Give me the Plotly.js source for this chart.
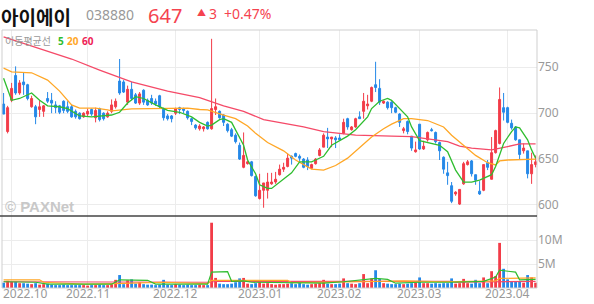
<!DOCTYPE html>
<html><head><meta charset="utf-8">
<script src="https://cdn.plot.ly/plotly-3.0.1.min.js"></script>
<style>html,body{margin:0;padding:0;background:#fff}#chart{width:594px;height:304px}</style>
</head><body><div id="chart"></div>
<script>
// trading days (KRX) per month
const sep2022 = [29,30];
const oct2022 = [4,5,6,7,11,12,13,14,17,18,19,20,21,24,25,26,27,28,31];
const nov2022 = [1,2,3,4,7,8,9,10,11,14,15,16,17,18,21,22,23,24,25,28,29,30];
const dec2022 = [1,2,5,6,7,8,9,12,13,14,15,16,19,20,21,22,23,26,27,28,29];
const jan2023 = [2,3,4,5,6,9,10,11,12,13,16,17,18,19,20,25,26,27,30,31];
const feb2023 = [1,2,3,6,7,8,9,10,13,14,15,16,17,20,21,22,23,24,27,28];
const mar2023 = [2,3,6,7,8,9,10,13,14,15,16,17,20,21,22,23,24,27,28,29,30,31];
const apr2023 = [3,4,5,6,7,10,11,12];

const monthTickDates = ['2022-10-04','2022-11-01','2022-12-01','2023-01-02','2023-02-01','2023-03-02','2023-04-03'];
const monthTickLabels = ['2022.10','2022.11','2022.12','2023.01','2023.02','2023.03','2023.04'];

const openP = [710,680,714,741,722,734,731,707,707,704,702,716,714,709,708,713,707,707,702,700,
696,699,704,695,705,700,696,702,707,735,734,712,726,720,711,725,714,716,713,719,
705,697,697,700,706,705,702,694,687,683,683,690,683,704,702,698,688,682,676,665,
641,645,647,631,607,616,616,623,625,633,639,642,653,656,653,650,649,640,645,654,
663,674,672,673,673,678,694,682,685,696,702,708,713,731,727,711,712,712,706,699,
681,691,675,658,688,661,671,682,679,668,652,635,621,612,601,623,644,648,633,615,
616,646,628,657,667,706,706,689,685,671,659,659,634,644];
const highP = [722,708,733,751,736,744,732,719,709,714,709,723,722,713,709,714,713,709,704,701,
701,705,705,706,706,701,702,715,716,759,736,730,734,722,723,726,716,720,716,720,
706,699,698,706,707,706,703,695,688,688,686,691,781,716,703,699,689,684,678,668,
679,648,648,632,634,624,635,635,636,644,646,656,654,657,655,651,652,645,651,662,
678,684,674,675,677,694,695,686,695,702,722,720,729,756,737,714,713,713,707,700,
685,692,675,669,688,670,680,684,680,669,653,647,625,615,617,647,649,649,633,626,
644,649,674,682,728,722,707,693,686,671,667,659,657,654];
const lowP = [699,678,712,720,720,720,714,706,688,696,696,711,700,700,699,700,700,695,694,693,
695,696,697,690,691,692,695,700,705,720,722,709,714,710,709,709,708,709,708,705,
692,692,690,698,699,700,693,687,682,681,680,682,682,698,694,686,679,674,667,649,
640,644,631,609,606,597,607,622,623,632,636,641,644,652,648,640,638,639,644,653,
663,662,663,662,670,677,682,681,684,694,694,704,712,723,709,710,704,700,700,685,
678,677,659,657,660,660,669,680,667,649,634,622,602,610,600,622,643,631,622,611,
615,638,628,656,666,692,689,682,670,649,656,629,623,641];
const closeP = [699,706,727,722,733,731,716,716,696,707,708,713,711,706,701,703,702,696,696,694,
700,702,699,703,693,694,700,709,713,722,723,726,716,711,721,712,709,711,710,707,
695,694,694,705,704,703,695,691,684,686,685,683,705,707,695,690,681,675,669,650,
654,647,632,610,616,624,625,625,628,639,641,651,651,653,651,641,642,644,650,660,
676,672,674,671,671,690,685,685,694,694,713,710,728,728,712,713,706,706,701,690,
683,680,662,660,661,664,679,681,669,659,639,632,604,614,617,645,647,634,627,612,
644,641,657,681,715,701,690,684,671,655,662,634,644,647];
const volumeM = [1.1,1.5,1.3,1.3,1.0,1.0,0.9,0.8,1.0,0.7,
0.8,0.9,0.7,0.6,0.6,0.7,0.6,0.6,0.6,0.6,
0.6,0.5,0.6,0.6,0.7,0.6,0.6,0.8,1.7,2.7,
0.8,1.6,1.8,0.9,1.2,0.8,0.7,0.7,0.6,0.7,
1.7,0.7,0.6,0.8,0.7,0.6,0.7,0.6,0.6,0.7,
0.6,0.6,13.6,2.1,0.9,0.8,0.8,0.9,1.2,2.0,
2.1,0.9,0.8,1.0,1.2,0.9,1.0,0.8,0.7,0.8,
0.8,0.9,1.0,0.8,1.2,0.8,0.7,0.8,0.9,1.0,
1.7,0.9,0.8,0.8,0.9,2.0,1.0,0.9,0.8,1.0,
2.9,1.0,2.0,3.7,1.9,1.0,0.9,0.8,0.8,0.9,
0.8,0.9,1.0,1.1,2.2,1.0,1.0,0.9,1.0,0.9,
1.0,1.0,2.0,0.9,1.0,1.9,1.0,0.9,1.7,1.0,
2.2,1.0,3.5,2.5,9.4,4.0,1.8,1.3,1.3,1.3,
1.1,2.7,2.2,1.1];

// moving averages (day index, value)
const ma5Day = [0,2,4,7,9,11,14,16,19,22,27,29,31,33,35,38,41,44,47,49,51,52,54,55,57,58,60,61,63,64,66,67,72,74,77,78,80,82,86,88,91,92,94,96,97,101,102,104,107,109,111,113,115,117,119,122,123,125,127,128,129,131,132,133];
const ma5Val = [738,714,716,722,714,708,707,705,697,696,698,701,711,718,716,709,703,701,696,690,686,687,693,694,690,682,665,649,634,622,618,618,635,647,647,649,653,665,675,682,696,705,713,716,714,696,685,670,667,665,658,638,625,625,627,633,642,667,680,685,684,671,660,651];
const ma20Day = [0,2,7,11,14,17,19,23,26,27,32,41,46,49,51,55,58,61,63,66,70,73,77,80,83,86,88,92,95,97,100,102,106,110,112,116,118,121,123,124,126,133];
const ma20Val = [749,745,744,736,724,709,705.5,705.5,703.6,702.5,704.7,705.5,705.5,704,703.5,698,694,686,678,668,659,649,639,638,643,651,659,674,683,688,694,694,692,685,676,661,654,646,643.6,648,649,650];
const ma60Day = [0,10,17,24,32,41,49,55,60,65,70,75,80,88,97,102,111,114,117,122,126,129,133];
const ma60Val = [783,769,759,747,734,724,717,708,702,693,689,685,680,676,675,674.5,669,664,662,660,663.6,666.5,666.5];
const vma5Day = [0,8,11,27,29,36,38,51,52,56,57,60,62,80,85,90,93,96,98,104,112,120,123,124,128,129,133];
const vma5Val = [1.3,1.2,0.8,0.8,1.7,1.6,0.8,0.8,3.3,3.4,1.4,1.5,1.2,1.0,1.3,1.8,2.0,1.8,1.0,1.2,1.2,1.4,2.3,3.7,3.3,1.7,1.8];
const vma20Day = [0,9,10,20,28,40,51,52,71,72,90,100,110,118,123,124,133];
const vma20Val = [1.7,1.7,1.2,0.8,0.9,1.2,0.9,1.6,1.6,1.1,1.3,1.5,1.3,1.5,1.5,2.0,2.1];
const vma60Day = [0,52,53,112,113,133];
const vma60Val = [1.3,1.2,1.4,1.4,1.2,1.4];

const pad = n => (n < 10 ? '0' : '') + n;
const dates = [].concat(
  sep2022.map(d => '2022-09-' + pad(d)), oct2022.map(d => '2022-10-' + pad(d)),
  nov2022.map(d => '2022-11-' + pad(d)), dec2022.map(d => '2022-12-' + pad(d)),
  jan2023.map(d => '2023-01-' + pad(d)), feb2023.map(d => '2023-02-' + pad(d)),
  mar2023.map(d => '2023-03-' + pad(d)), apr2023.map(d => '2023-04-' + pad(d)));

const UP = '#f23c48', DOWN = '#2488e8';
const C5 = '#2fbd2f', C20 = '#ffa726', C60 = '#f54a68';
const volColors = closeP.map((c, i) => c >= openP[i] ? UP : DOWN);

const traces = [
  {type:'candlestick', x:dates, open:openP, high:highP, low:lowP, close:closeP,
   xaxis:'x', yaxis:'y', whiskerwidth:0, hoverinfo:'skip',
   increasing:{line:{color:UP,width:1}, fillcolor:UP},
   decreasing:{line:{color:DOWN,width:1}, fillcolor:DOWN}},
  {type:'scatter', mode:'lines', x:ma60Day.map(i=>dates[i]), y:ma60Val, xaxis:'x', yaxis:'y', line:{color:C60,width:1.3}},
  {type:'scatter', mode:'lines', x:ma20Day.map(i=>dates[i]), y:ma20Val, xaxis:'x', yaxis:'y', line:{color:C20,width:1.3}},
  {type:'scatter', mode:'lines', x:ma5Day.map(i=>dates[i]), y:ma5Val, xaxis:'x', yaxis:'y', line:{color:C5,width:1.3}},
  {type:'bar', x:dates, y:volumeM, xaxis:'x2', yaxis:'y2', marker:{color:volColors, line:{width:0}}},
  {type:'scatter', mode:'lines', x:vma60Day.map(i=>dates[i]), y:vma60Val, xaxis:'x2', yaxis:'y2', line:{color:C60,width:1.2}},
  {type:'scatter', mode:'lines', x:vma20Day.map(i=>dates[i]), y:vma20Val, xaxis:'x2', yaxis:'y2', line:{color:C20,width:1.2}},
  {type:'scatter', mode:'lines', x:vma5Day.map(i=>dates[i]), y:vma5Val, xaxis:'x2', yaxis:'y2', line:{color:C5,width:1.2}}
];

const L = 2, R = 537, T = 30, B = 288, DIV = 216;
const px = x => (x - L) / (R - L);
const py = y => (B - y) / (B - T);
const volTop = py(DIV);
const FK = '"Noto Sans CJK KR", "Noto Sans", sans-serif';
const FN = '"Noto Sans", "DejaVu Sans", sans-serif';

const ann = [
  {text:'<b>아이에이</b>', x:px(0), y:py(2), xanchor:'left', yanchor:'top', font:{family:FK,size:19,color:'#111'}},
  {text:'038880', x:px(85), y:py(4), xanchor:'left', yanchor:'top', font:{family:FN,size:14,color:'#999'}},
  {text:'647', x:px(147), y:py(1), xanchor:'left', yanchor:'top', font:{family:FN,size:20,color:'#f5434f'}},
  {text:'▲', x:px(196), y:py(5), xanchor:'left', yanchor:'top', font:{family:FK,size:9,color:'#f5434f'}},
  {text:'3', x:px(208), y:py(3), xanchor:'left', yanchor:'top', font:{family:FN,size:14,color:'#f5434f'}},
  {text:'+0.47%', x:px(223), y:py(3), xanchor:'left', yanchor:'top', font:{family:FN,size:14,color:'#f5434f'}},
  {text:'이동평균선', x:px(4), y:py(41), xanchor:'left', yanchor:'middle', font:{family:FK,size:10,color:'#999'}},
  {text:'<b>5</b>', x:px(57), y:py(41), xanchor:'left', yanchor:'middle', font:{family:FN,size:10,color:C5}},
  {text:'<b>20</b>', x:px(66), y:py(41), xanchor:'left', yanchor:'middle', font:{family:FN,size:10,color:C20}},
  {text:'<b>60</b>', x:px(81), y:py(41), xanchor:'left', yanchor:'middle', font:{family:FN,size:10,color:'#ee2255'}},
  {text:'<b>© PAXNet</b>', x:px(4), y:py(206), xanchor:'left', yanchor:'middle', font:{family:'"Liberation Sans", Arial, sans-serif',size:15,color:'#c8c8c8'}},
  {text:monthTickLabels[0], x:px(2), y:py(293), xanchor:'left', yanchor:'middle', font:{family:FN,size:12,color:'#999'}}
];
for (let k = 1; k < monthTickDates.length; k++) {
  ann.push({text:monthTickLabels[k], x:dates.indexOf(monthTickDates[k]), xref:'x2', y:py(293), yref:'paper',
    xanchor:'center', yanchor:'middle', font:{family:FN,size:12,color:'#999'}});
}
ann.forEach(a => { a.showarrow = false; a.borderpad = 0; if (!a.xref) a.xref = 'paper'; if (!a.yref) a.yref = 'paper'; });

const layout = {
  width:594, height:304, margin:{l:L, r:594-R, t:T, b:304-B, pad:0},
  paper_bgcolor:'#fff', plot_bgcolor:'#fff', showlegend:false, bargap:0.3,
  xaxis:{type:'category', anchor:'y', range:[-0.4,133.35], rangeslider:{visible:false},
    tickvals:monthTickDates, showticklabels:false, ticks:'', showgrid:true, gridcolor:'#ececec', zeroline:false, fixedrange:true},
  xaxis2:{type:'category', anchor:'y2', matches:'x', range:[-0.4,133.35],
    tickvals:monthTickDates, showticklabels:false, ticks:'', showgrid:true, gridcolor:'#ececec', zeroline:false},
  yaxis:{domain:[volTop,1], range:[588,790.6], side:'right', tickvals:[600,650,700,750],
    ticks:'', showgrid:true, gridcolor:'#ececec', zeroline:false, tickfont:{family:FN,size:12,color:'#999'}},
  yaxis2:{domain:[0,volTop], range:[0,15], side:'right', tickvals:[5,10], ticktext:['5M','10M'],
    ticks:'', showgrid:true, gridcolor:'#ececec', zeroline:false, tickfont:{family:FN,size:12,color:'#999'}},
  annotations:ann,
  shapes:[
    {type:'rect', xref:'paper', yref:'paper', x0:0, x1:1, y0:0, y1:1, line:{color:'#cfcfcf', width:1}},
    {type:'line', xref:'paper', yref:'paper', x0:-0.01, x1:1, y0:volTop, y1:volTop, line:{color:'#444', width:1.5}}
  ]
};
Plotly.newPlot('chart', traces, layout, {staticPlot:true, displayModeBar:false});
</script></body></html>
